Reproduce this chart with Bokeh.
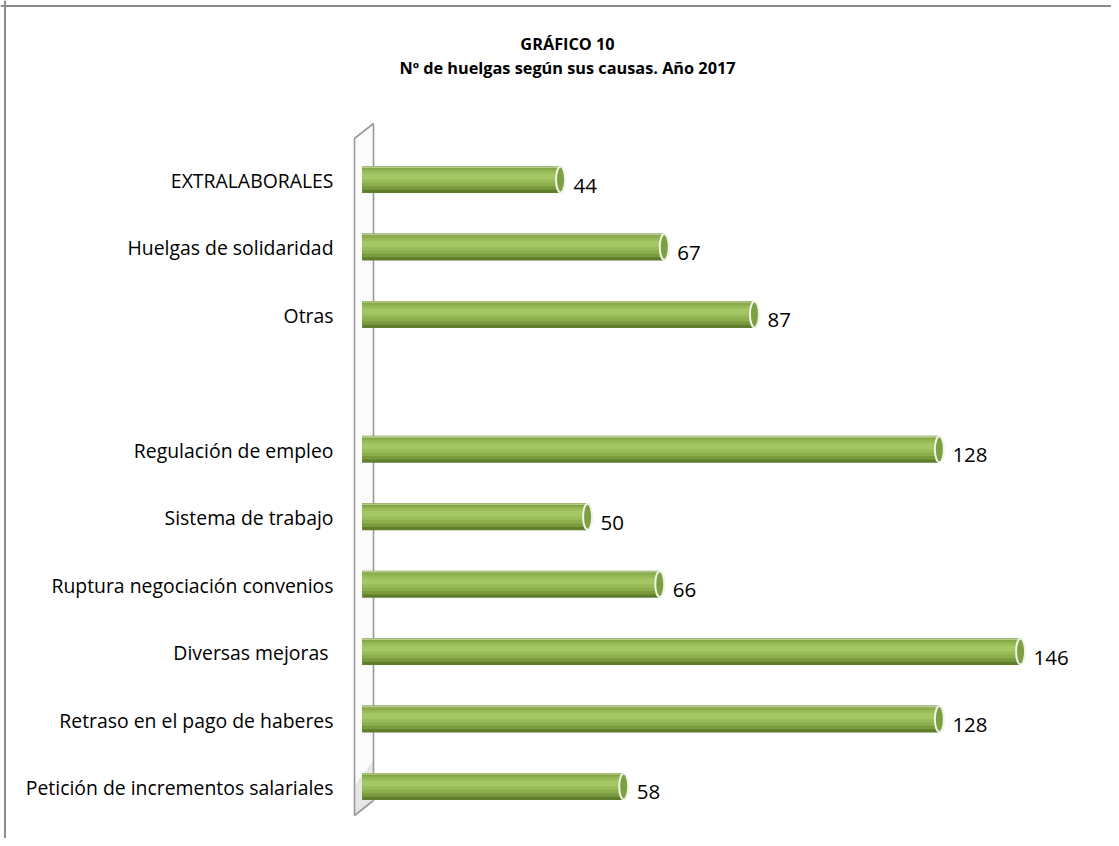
from bokeh.plotting import figure
from bokeh.models import Range1d, ColumnDataSource, Span, Label
from bokeh.core.properties import value
from bokeh.embed import file_html
from bokeh.resources import INLINE

# ---------------- data ----------------
categories = [
    "Petición de incrementos salariales",
    "Retraso en el pago de haberes",
    "Diversas mejoras ",
    "Ruptura negociación convenios",
    "Sistema de trabajo",
    "Regulación de empleo",
    "",
    "Otras",
    "Huelgas de solidaridad",
    "EXTRALABORALES",
]
values = [58, 128, 146, 66, 50, 128, None, 87, 67, 44]
title_lines = ["GRÁFICO 10", "Nº de huelgas según sus causas. Año 2017"]

# ---------------- layout constants ----------------
W, H = 1111, 838
PX_PER_UNIT = 4.51          # horizontal pixels per count
ZERO_PX = 361.6             # canvas x of value 0
ROW = 67.44                 # pixels per category row
TOP_PX = 179.0              # canvas y of top row centre
n = len(categories)

x_start = -ZERO_PX / PX_PER_UNIT
x_end = (W - ZERO_PX) / PX_PER_UNIT
y_end = (n - 1) + TOP_PX / ROW
y_start = y_end - H / ROW


def dx(px):
    return x_start + px / PX_PER_UNIT


def dy(py):
    return y_end - py / ROW


p = figure(width=W, height=H, x_range=Range1d(x_start, x_end), y_range=Range1d(y_start, y_end),
           output_backend="svg", toolbar_location=None, min_border=0,
           x_axis_location=None, y_axis_location=None, title=None)
p.grid.visible = False
p.outline_line_color = None
p.background_fill_color = "white"
p.border_fill_color = "white"

# outer border (left and top)
p.add_layout(Span(location=dx(4.5), dimension="height", line_color="#8c8c8c", line_width=2))
p.add_layout(Span(location=dy(5.5), dimension="width", line_color="#8c8c8c", line_width=2))

# ---------------- 3D wall ----------------
fx, bx = 354, 373
ft, fb = 138, 815
bt, bb = 123, 800
p.patch([dx(fx), dx(bx), dx(bx), dx(fx)], [dy(ft), dy(bt), dy(bb), dy(fb)],
        fill_color="#fbfbfb", line_color=None)
p.patch([dx(fx), dx(bx), dx(bx), dx(fx)], [dy(fb - 30), dy(bb - 40), dy(bb), dy(fb)],
        fill_color="#d9d9d9", fill_alpha=0.6, line_color=None)
p.line([dx(bx), dx(bx)], [dy(bt), dy(bb)], line_color="#999999", line_width=1.6)

# ---------------- bars ----------------
ys = [i for i, v in enumerate(values) if v is not None]
vs = [v for v in values if v is not None]
src = ColumnDataSource(dict(y=ys, v=vs, t=[str(v) for v in vs]))

bh = 27 / ROW
layers = [
    (1.00, 0.00, "#5f7d2c"),
    (0.86, 0.05, "#7a9a3e"),
    (0.66, 0.08, "#8cae4d"),
    (0.44, 0.10, "#99bb59"),
    (0.22, 0.11, "#a5c665"),
]
for frac, off, col in layers:
    p.hbar(y="y", right="v", left=0, height=bh * frac,
           source=ColumnDataSource(dict(y=[y + off * bh for y in ys], v=vs)),
           fill_color=col, line_color=None)
# top highlight edge
p.hbar(y=[y + 0.46 * bh for y in ys], right=vs, left=0, height=bh * 0.06,
       fill_color="#b7cc8c", line_color=None)

# end caps
p.ellipse(x="v", y="y", width=9, height=26, width_units="screen", height_units="screen",
          source=src, fill_color="#7f9f45", line_color="#eef3e2", line_width=2)

# front wall lines (over bars)
p.line([dx(fx), dx(fx)], [dy(ft), dy(fb)], line_color="#999999", line_width=1.6)
p.line([dx(fx), dx(bx)], [dy(fb), dy(bb)], line_color="#999999", line_width=1.6)
p.line([dx(fx), dx(bx)], [dy(ft), dy(bt)], line_color="#999999", line_width=1.6)

# ---------------- texts ----------------
cat_src = ColumnDataSource(dict(y=list(range(n)), t=categories))
p.text(x=0, y="y", text="t", source=cat_src, x_offset=-28.6, y_offset=1,
       text_align="right", text_baseline="middle",
       text_font=value("Open Sans"), text_font_size="19.4px", text_color="#000000")

p.text(x="v", y="y", text="t", source=src, x_offset=13, y_offset=6,
       text_align="left", text_baseline="middle",
       text_font=value("Open Sans"), text_font_size="20.5px", text_color="#000000")

p.add_layout(Label(x=567, y=H - 43, x_units="screen", y_units="screen", text=title_lines[0],
                   text_align="center", text_baseline="middle", text_font="Open Sans",
                   text_font_style="bold", text_font_size="16.3px", text_color="#000000"))
p.add_layout(Label(x=567, y=H - 67, x_units="screen", y_units="screen", text=title_lines[1],
                   text_align="center", text_baseline="middle", text_font="Open Sans",
                   text_font_style="bold", text_font_size="16.3px", text_color="#000000"))

open("out.html", "w").write(file_html(p, INLINE))
